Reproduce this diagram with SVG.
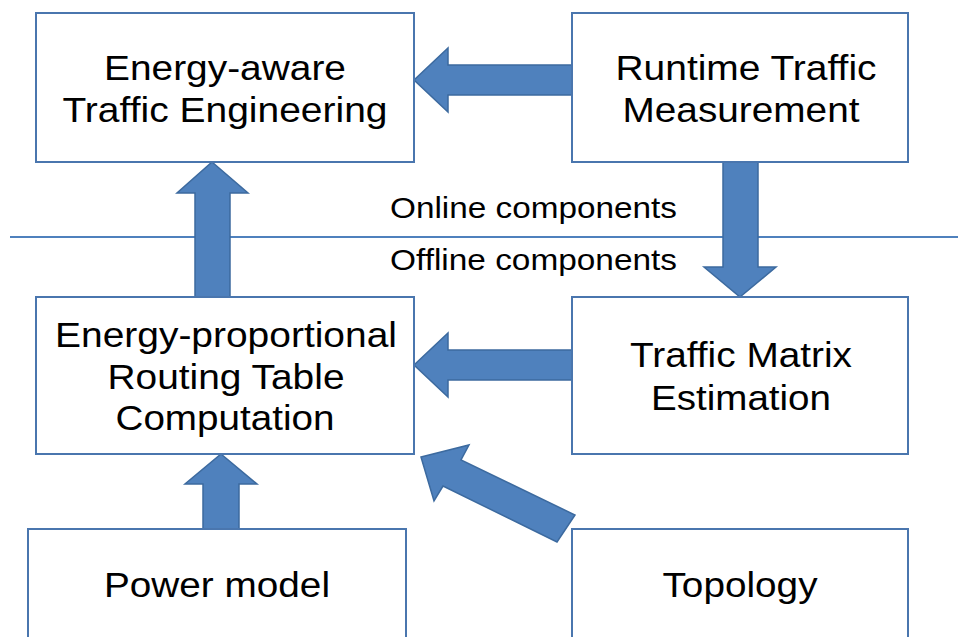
<svg xmlns="http://www.w3.org/2000/svg" width="958" height="637" viewBox="0 0 958 637">
  <style>
    .box { fill: #ffffff; stroke: #4A76AE; stroke-width: 2; }
    .arrow { fill: #4F81BD; stroke: #3C6A9F; stroke-width: 1.5; stroke-linejoin: miter; }
    .lbl { font-family: "Liberation Sans", Arial, sans-serif; font-size: 35px; fill: #000000; text-anchor: middle; }
    .sep { font-family: "Liberation Sans", Arial, sans-serif; font-size: 29px; fill: #000000; }
    .divider { stroke: #4F81BD; stroke-width: 2; }
  </style>

  <rect width="958" height="637" fill="#ffffff"/>

  <!-- online / offline divider -->
  <line class="divider" x1="10" y1="237" x2="958" y2="237"/>
  <text class="sep" x="390" y="218" textLength="287" lengthAdjust="spacingAndGlyphs">Online components</text>
  <text class="sep" x="390" y="270" textLength="287" lengthAdjust="spacingAndGlyphs">Offline components</text>

  <!-- block arrows between components -->
  <g id="connectors">
    <polygon class="arrow" points="414,80 448,48 448,65 572,65 572,95 448,95 448,112"/>
    <polygon class="arrow" points="212,162 248,193 230,193 230,297 195,297 195,193 177,193"/>
    <polygon class="arrow" points="740,297 776,267 758,267 758,162 723,162 723,267 704,267"/>
    <polygon class="arrow" points="414,365 448,333 448,350 572,350 572,380 448,380 448,397"/>
    <polygon class="arrow" points="221,454 257,484 239,484 239,529 203,529 203,484 185,484"/>
    <polygon class="arrow" points="421,457 469,445 461,460 575,515 557,542 443,486 434,501"/>
  </g>

  <g id="traffic-engineering">
    <rect class="box" x="36" y="13" width="378" height="149"/>
    <text class="lbl" x="225" y="80" textLength="242" lengthAdjust="spacingAndGlyphs">Energy-aware</text>
    <text class="lbl" x="225" y="122" textLength="325" lengthAdjust="spacingAndGlyphs">Traffic Engineering</text>
  </g>

  <g id="traffic-measurement">
    <rect class="box" x="572" y="13" width="336" height="149"/>
    <text class="lbl" x="746" y="80" textLength="261" lengthAdjust="spacingAndGlyphs">Runtime Traffic</text>
    <text class="lbl" x="741" y="122" textLength="237" lengthAdjust="spacingAndGlyphs">Measurement</text>
  </g>

  <g id="routing-table">
    <rect class="box" x="36" y="297" width="378" height="157"/>
    <text class="lbl" x="226" y="347" textLength="342" lengthAdjust="spacingAndGlyphs">Energy-proportional</text>
    <text class="lbl" x="226" y="389" textLength="237" lengthAdjust="spacingAndGlyphs">Routing Table</text>
    <text class="lbl" x="225" y="430" textLength="219" lengthAdjust="spacingAndGlyphs">Computation</text>
  </g>

  <g id="traffic-matrix">
    <rect class="box" x="572" y="297" width="336" height="157"/>
    <text class="lbl" x="741" y="367" textLength="222" lengthAdjust="spacingAndGlyphs">Traffic Matrix</text>
    <text class="lbl" x="741" y="410" textLength="180" lengthAdjust="spacingAndGlyphs">Estimation</text>
  </g>

  <g id="power-model">
    <rect class="box" x="28" y="529" width="378" height="130"/>
    <text class="lbl" x="217" y="597" textLength="226" lengthAdjust="spacingAndGlyphs">Power model</text>
  </g>

  <g id="topology">
    <rect class="box" x="572" y="529" width="336" height="130"/>
    <text class="lbl" x="740" y="597" textLength="155" lengthAdjust="spacingAndGlyphs">Topology</text>
  </g>
</svg>
